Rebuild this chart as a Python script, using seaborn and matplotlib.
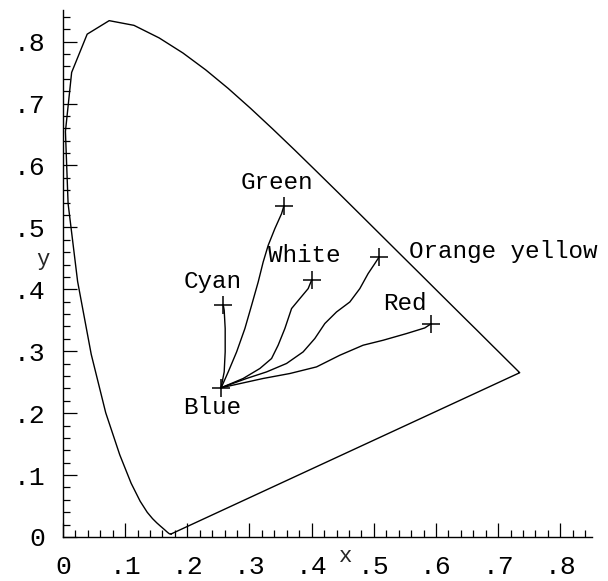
import numpy as np
import pandas as pd
import matplotlib
matplotlib.use("Agg")
import matplotlib.pyplot as plt
import seaborn as sns
from matplotlib.ticker import MultipleLocator, FixedLocator, FixedFormatter

# --- Spectral locus (CIE 1931 chromaticity) ---
locus_x = [0.1741, 0.1733, 0.1726, 0.1714, 0.1703, 0.1689, 0.1669, 0.1644, 0.1611,
           0.1566, 0.1510, 0.1440, 0.1355, 0.1241, 0.1096, 0.0913, 0.0687, 0.0454,
           0.0235, 0.0082, 0.0039, 0.0139, 0.0389, 0.0743, 0.1142, 0.1547, 0.1929,
           0.2296, 0.2658, 0.3016, 0.3373, 0.3731, 0.4087, 0.4441, 0.4788, 0.5125,
           0.5448, 0.5752, 0.6029, 0.6270, 0.6482, 0.6658, 0.6801, 0.6915, 0.7006,
           0.7079, 0.7140, 0.7190, 0.7230, 0.7260, 0.7300, 0.7334, 0.7347, 0.1741]
locus_y = [0.0050, 0.0048, 0.0048, 0.0051, 0.0058, 0.0069, 0.0086, 0.0109, 0.0138,
           0.0177, 0.0227, 0.0297, 0.0399, 0.0578, 0.0868, 0.1327, 0.2007, 0.2950,
           0.4127, 0.5384, 0.6548, 0.7502, 0.8120, 0.8338, 0.8262, 0.8059, 0.7816,
           0.7543, 0.7243, 0.6923, 0.6589, 0.6245, 0.5896, 0.5547, 0.5202, 0.4866,
           0.4544, 0.4242, 0.3965, 0.3725, 0.3514, 0.3340, 0.3197, 0.3083, 0.2993,
           0.2920, 0.2859, 0.2809, 0.2770, 0.2740, 0.2700, 0.2666, 0.2653, 0.0050]

# --- Paths from Blue to each colour point ---
cyan_x = [0.2535, 0.2551, 0.2593, 0.2609, 0.2609, 0.2593, 0.2577]
cyan_y = [0.2408, 0.2452, 0.2666, 0.2989, 0.3366, 0.3661, 0.3753]

green_x = [0.2535, 0.2551, 0.2658, 0.2793, 0.2926, 0.3034, 0.3140, 0.3220, 0.3301,
           0.3408, 0.3516, 0.3553]
green_y = [0.2408, 0.2424, 0.2666, 0.2989, 0.3366, 0.3742, 0.4118, 0.4440, 0.4710,
           0.4979, 0.5221, 0.5344]

white_x = [0.2535, 0.2577, 0.2899, 0.3167, 0.3355, 0.3461, 0.3569, 0.3677, 0.3810,
           0.3944, 0.3998]
white_y = [0.2408, 0.2424, 0.2560, 0.2721, 0.2882, 0.3097, 0.3366, 0.3689, 0.3850,
           0.4011, 0.4145]

orange_x = [0.2535, 0.2953, 0.3275, 0.3596, 0.3863, 0.4051, 0.4212, 0.4400, 0.4614,
            0.4775, 0.4908, 0.5016, 0.5085]
orange_y = [0.2408, 0.2560, 0.2666, 0.2802, 0.2989, 0.3205, 0.3447, 0.3634, 0.3795,
            0.4011, 0.4253, 0.4415, 0.4521]

red_x = [0.2535, 0.3220, 0.3650, 0.4079, 0.4453, 0.4828, 0.5149, 0.5526, 0.5820, 0.5928]
red_y = [0.2408, 0.2560, 0.2640, 0.2747, 0.2935, 0.3097, 0.3177, 0.3285, 0.3376, 0.3447]

# --- Marked points and labels ---
point_names = ["Blue", "Cyan", "Green", "White", "Orange yellow", "Red"]
point_x = [0.2535, 0.2577, 0.3553, 0.3998, 0.5085, 0.5928]
point_y = [0.2408, 0.3753, 0.5344, 0.4145, 0.4521, 0.3447]
label_x = [0.240, 0.241, 0.344, 0.388, 0.709, 0.550]
label_y = [0.209, 0.413, 0.573, 0.455, 0.461, 0.377]

tick_values = [0, 0.1, 0.2, 0.3, 0.4, 0.5, 0.6, 0.7, 0.8]
tick_labels = ["0", ".1", ".2", ".3", ".4", ".5", ".6", ".7", ".8"]

sns.set_theme(style="ticks")
FONT = ["Liberation Mono", "DejaVu Sans Mono"]
plt.rcParams["font.family"] = FONT

fig = plt.figure(figsize=(6.08, 5.81), dpi=100)
ax = fig.add_axes([63 / 608, 1 - 537 / 581, 529 / 608, 527 / 581])

lw = 1.0
sns.lineplot(data=pd.DataFrame({"x": locus_x, "y": locus_y}), x="x", y="y",
             sort=False, estimator=None, color="black", lw=lw, ax=ax)
for px, py in [(cyan_x, cyan_y), (green_x, green_y), (white_x, white_y),
               (orange_x, orange_y), (red_x, red_y)]:
    sns.lineplot(data=pd.DataFrame({"x": px, "y": py}), x="x", y="y",
                 sort=False, estimator=None, color="black", lw=lw, ax=ax)

sns.scatterplot(data=pd.DataFrame({"x": point_x, "y": point_y}), x="x", y="y",
                marker="+", s=180, color="black", linewidth=1.1, ax=ax, zorder=5)

for name, lx, ly in zip(point_names, label_x, label_y):
    ax.text(lx, ly, name, ha="center", va="center", fontsize=17.5, family=FONT,
            color="black")

ax.set_xlim(0, 0.851)
ax.set_ylim(0, 0.851)
for s in ["top", "right"]:
    ax.spines[s].set_visible(False)
for s in ["left", "bottom"]:
    ax.spines[s].set_linewidth(1.0)
    ax.spines[s].set_color("black")

ax.xaxis.set_major_locator(FixedLocator(tick_values))
ax.xaxis.set_major_formatter(FixedFormatter(tick_labels))
ax.yaxis.set_major_locator(FixedLocator(tick_values))
ax.yaxis.set_major_formatter(FixedFormatter(tick_labels))
ax.xaxis.set_minor_locator(MultipleLocator(0.02))
ax.yaxis.set_minor_locator(MultipleLocator(0.02))
ax.tick_params(which="major", direction="in", length=10, width=0.9, color="black",
               pad=13, labelsize=19, labelcolor="black")
ax.tick_params(which="minor", direction="in", length=5, width=0.9, color="black")
for lab in ax.get_xticklabels() + ax.get_yticklabels():
    lab.set_family(FONT)

ax.set_xlabel("")
ax.set_ylabel("")
fig.text(346 / 608, 1 - 556 / 581, "x", ha="center", va="center", fontsize=16,
         family=FONT)
fig.text(43 / 608, 1 - 259 / 581, "y", ha="center", va="center", fontsize=16,
         family=FONT)

fig.savefig("out.png", dpi=100, facecolor="white")
